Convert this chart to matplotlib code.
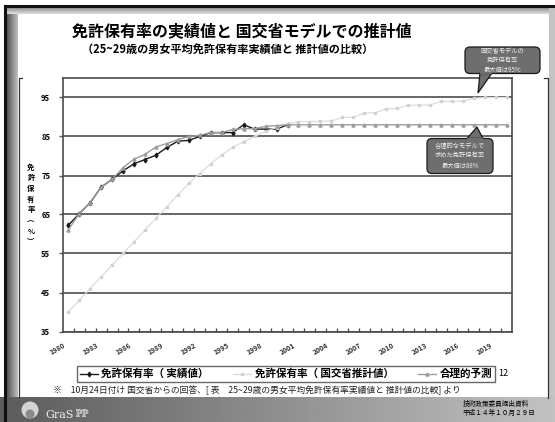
import numpy as np
import matplotlib.pyplot as plt
from matplotlib.patches import FancyBboxPatch, Polygon, Circle
from matplotlib.transforms import ScaledTranslation
import matplotlib.patheffects as pe

plt.rcParams['font.family'] = ['Noto Sans CJK JP', 'DejaVu Sans']

# data
years = list(range(1980, 2021))
actual = [62.2, 65.2, 68.0, 72.0, 74.0, 76.2, 78.0, 79.1, 80.2, 82.2,
          83.8, 84.0, 85.0, 86.0, 86.0, 86.0, 88.0, 86.9, 86.9, 86.9, 88.0]
mlit = [40.0, 43.0, 46.0, 49.0, 52.0, 55.0, 58.0, 61.0, 64.0, 67.0,
        70.0, 73.0, 75.5, 78.0, 80.3, 82.2, 83.7, 85.0, 86.3, 87.3,
        88.3, 88.8, 88.8, 88.9, 89.0, 89.9, 89.9, 91.0, 91.1, 92.1,
        92.2, 93.0, 93.0, 93.1, 94.0, 94.0, 94.1, 94.8, 95.0, 95.0, 95.0]
reasonable = [61.0, 65.2, 68.0, 72.0, 74.0, 77.0, 79.2, 80.4, 82.3, 83.2,
              84.2, 85.0, 85.3, 86.0, 86.0, 86.8, 87.0, 87.0, 87.6, 87.8,
              88.0] + [88.0] * 20
label_years = list(range(1980, 2020, 3))
y_ticks = [35, 45, 55, 65, 75, 85, 95]
legend_labels = ['免許保有率（ 実績値）', '免許保有率（ 国交省推計値）', '合理的予測']

W, H = 555, 422
fig = plt.figure(figsize=(W / 100, H / 100), dpi=100)

# ---- slide background / frame
bg = fig.add_axes([0, 0, 1, 1], zorder=0)
grad = np.linspace(0, 1, 256).reshape(1, -1)
bg.imshow(grad, cmap='gray', vmin=-0.9, vmax=1.6, extent=[0, W, H, 397], aspect='auto')
bg.imshow(grad, cmap='gray', vmin=-0.6, vmax=1.5, extent=[6, 18, 397, 6], aspect='auto')
bg.imshow(grad.T, cmap='gray', vmin=-1.2, vmax=1.3, extent=[6, W, 14, 6], aspect='auto')
bg.fill_between([549, W], 6, 397, color='#c4c4c4', lw=0)
bg.plot([5, 5], [6, H], color='#111111', lw=2.2)
bg.plot([5, W], [6, 6], color='#111111', lw=2.2)
# chart area corners
bg.plot([22, 19, 19], [78, 78, 397], color='#333333', lw=0.9)
bg.plot([544, 548, 548], [78, 78, 398], color='#333333', lw=0.9)
bg.set_xlim(0, W)
bg.set_ylim(H, 0)
bg.axis('off')

# ---- chart
ax = fig.add_axes([62.7 / W, 1 - 331.5 / H, 449.6 / W, 253.5 / H], zorder=2)
x = np.arange(len(years))
ax.plot(x[:len(actual)], actual, color='#1a1a1a', lw=1.0, marker='d', ms=2.4,
        label=legend_labels[0])
ax.plot(x, mlit, color='#dcdcdc', lw=0.9, marker='s', ms=1.8, mfc='#d2d2d2',
        mec='#d2d2d2', label=legend_labels[1])
ax.plot(x, reasonable, color='#9c9c9c', lw=1.0, marker='^', ms=2.2,
        label=legend_labels[2])

ax.set_xlim(-0.5, len(years) - 0.5)
ax.set_ylim(35, 100)
ax.set_yticks(y_ticks)
ax.set_yticklabels([str(v) for v in y_ticks], fontsize=5.5, fontweight='bold')
ax.yaxis.grid(True, color='#5a5a5a', lw=1.3)
ax.set_axisbelow(True)
ax.tick_params(axis='y', length=3, width=1, color='#5a5a5a', pad=6)

lab_pos = [years.index(yr) for yr in label_years]
ax.set_xticks(lab_pos)
ax.set_xticklabels([str(yr) for yr in label_years], fontsize=5, fontweight='bold',
                   rotation=30, ha='right', va='top', rotation_mode='anchor',
                   color='#333333')
ax.set_xticks(np.arange(0.5, len(years) - 1, 1), minor=True)
ax.tick_params(axis='x', which='major', length=0, pad=7)
ax.tick_params(axis='x', which='minor', direction='in', length=3, width=0.9,
               color='#444444')
off = ScaledTranslation(-4 / 72, 0, fig.dpi_scale_trans)
for lbl in ax.get_xticklabels():
    lbl.set_transform(lbl.get_transform() + off)
for s in ax.spines.values():
    s.set_color('#4a4a4a')
    s.set_linewidth(1.2)

fig.legend(loc='center', bbox_to_anchor=(77 / W, 1 - 383 / H, 418 / W, 18 / H),
           mode='expand', ncol=3, prop={'weight': 'bold', 'size': 7.6},
           frameon=True, fancybox=False, edgecolor='#444444', borderpad=0.25,
           handlelength=1.7, handletextpad=0.35, borderaxespad=0)

# ---- texts and callouts on top
ov = fig.add_axes([0, 0, 1, 1], zorder=3)
ov.set_xlim(0, W)
ov.set_ylim(H, 0)
ov.axis('off')
ov.patch.set_alpha(0)

ov.text(72, 31, '免許保有率の実績値と 国交省モデルでの推計値', fontsize=11.5,
        fontweight='bold', ha='left', va='center')
ov.text(82, 49, '（25~29歳の男女平均免許保有率実績値と 推計値の比較）', fontsize=8,
        fontweight='bold', ha='left', va='center')

ylab = '免許保有率︵%︶'
for i, ch in enumerate(ylab):
    ov.text(31, 167 + 10.7 * i, ch, fontsize=5.3, fontweight='bold',
            ha='center', va='center')

ov.text(498, 374, '12', fontsize=6.5, ha='left', va='center')
ov.text(53, 390, '※　10月24日付け 国交省からの回答、[ 表　25~29歳の男女平均免許保有率実績値と 推計値の比較] より',
        fontsize=6.3, ha='left', va='center', color='#222222')
ov.text(463, 404, '技術政策委員提出資料', fontsize=4.8, ha='left', va='center')
ov.text(463, 412.5, '平成１４年１０月２９日', fontsize=4.8, ha='left', va='center')

# callouts
callouts = [
    ((465, 47, 75, 26.5), [(480, 73), (492, 73), (478, 93)], '国交省モデルの\n免許保有率\n最大値は95%'),
    ((427, 138.5, 66, 35), [(467, 138.5), (483, 138.5), (477, 127)], '合理的なモデルで\n求めた免許保有率\n最大値は88%'),
]
for (bx, by, bw, bh), tail, txt in callouts:
    ov.add_patch(Polygon(tail, closed=True, fc='#6e6e6e', ec='#1a1a1a', lw=0.9))
    ov.add_patch(FancyBboxPatch((bx, by), bw, bh, boxstyle='round,pad=0,rounding_size=5',
                                fc='#6e6e6e', ec='#1a1a1a', lw=0.9))
    ov.add_patch(Polygon([tail[0], tail[1], ((tail[0][0] + tail[1][0]) / 2, tail[0][1])],
                         closed=True, fc='#6e6e6e', ec='#6e6e6e', lw=1.2))
    ov.text(bx + bw / 2, by + bh / 2, txt, fontsize=4.5, color='#eeeeee',
            ha='center', va='center', linespacing=1.25)

# logo
ov.add_patch(Circle((30, 410), 8.5, fc='#d4d4d4', ec='none'))
ov.add_patch(Circle((30, 414), 4.5, fc='#8a8a8a', ec='none'))
ov.text(45, 415, 'GraS', family='DejaVu Serif', fontsize=8, color='#efefef',
        ha='left', va='center')
ov.text(76, 414, 'PP', family='DejaVu Serif', fontsize=6.5, color='#9a9a9a',
        ha='left', va='center',
        path_effects=[pe.withStroke(linewidth=0.8, foreground='#dddddd')])

fig.savefig('out.png', dpi=100)
